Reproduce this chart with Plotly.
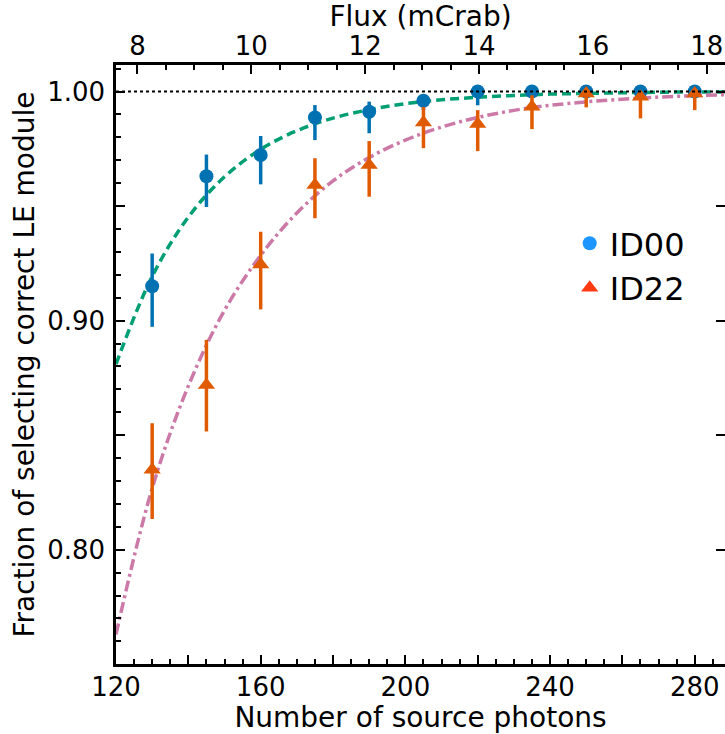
import plotly.graph_objects as go

# ---- data ----
photons = [130, 145, 160, 175, 190, 205, 220, 235, 250, 265, 280]

id00 = [0.9150, 0.9630, 0.9723, 0.9887, 0.9912, 0.9960, 1.0000, 1.0000, 1.0000, 1.0000, 1.0000]
id00_plus = [0.0143, 0.0095, 0.0083, 0.0054, 0.0044, 0.0020, 0.0, 0.0, 0.0, 0.0, 0.0]
id00_minus = [0.0177, 0.0134, 0.0128, 0.0099, 0.0094, 0.0040, 0.0060, 0.0, 0.0, 0.0, 0.0]

id22 = [0.8349, 0.8719, 0.9245, 0.9592, 0.9679, 0.9865, 0.9858, 0.9934, 0.9992, 0.9977, 0.9992]
id22_plus = [0.0203, 0.0197, 0.0143, 0.0117, 0.0105, 0.0068, 0.0061, 0.0050, 0.0008, 0.0023, 0.0008]
id22_minus = [0.0215, 0.0203, 0.0196, 0.0145, 0.0138, 0.0112, 0.0118, 0.0098, 0.0061, 0.0094, 0.0073]

# fitted curves
curve_x = [120, 130, 140, 150, 160, 170, 180, 190, 200, 210, 220, 230, 240, 250, 260, 270, 280, 290]
fit_id00 = [0.8810, 0.9193, 0.9452, 0.9628, 0.9748, 0.9829, 0.9884, 0.9921, 0.9947, 0.9964,
            0.9975, 0.9983, 0.9989, 0.9992, 0.9995, 0.9997, 0.9998, 0.9998]
fit_id22 = [0.7630, 0.8268, 0.8715, 0.9045, 0.9285, 0.9470, 0.9610, 0.9712, 0.9788, 0.9845,
            0.9887, 0.9918, 0.9940, 0.9955, 0.9967, 0.9976, 0.9982, 0.9987]

x_range = [120, 288.37]
y_range = [0.7501, 1.0116]
photons_per_mcrab = 15.74
flux_range = [x_range[0] / photons_per_mcrab, x_range[1] / photons_per_mcrab]

x_ticks = [120, 140, 160, 180, 200, 220, 240, 260, 280]
x_ticktext = ["120", "", "160", "", "200", "", "240", "", "280"]
flux_ticks = [8, 10, 12, 14, 16, 18]
y_ticks = [0.80, 0.85, 0.90, 0.95, 1.00]
y_ticktext = ["0.80", "", "0.90", "", "1.00"]

BLUE = "#0072B2"
ORANGE = "#E05A00"
GREEN = "#009E73"
PINK = "#CC79A7"
FONT = "DejaVu Sans"

fig = go.Figure()

fig.add_trace(go.Scatter(x=curve_x, y=fit_id00, mode="lines", line_shape="spline",
                         line=dict(color=GREEN, width=3.5, dash="9px,5px"),
                         showlegend=False, hoverinfo="skip"))
fig.add_trace(go.Scatter(x=curve_x, y=fit_id22, mode="lines", line_shape="spline",
                         line=dict(color=PINK, width=3.5, dash="11px,4px,3px,4px"),
                         showlegend=False, hoverinfo="skip"))

fig.add_trace(go.Scatter(x=photons, y=id00, mode="markers",
                         marker=dict(symbol="circle", size=14, color=BLUE),
                         error_y=dict(type="data", symmetric=False, array=id00_plus,
                                      arrayminus=id00_minus, color=BLUE, thickness=3.5, width=0),
                         showlegend=False))
fig.add_trace(go.Scatter(x=photons, y=id22, mode="markers",
                         marker=dict(symbol="triangle-up", size=15, color=ORANGE),
                         error_y=dict(type="data", symmetric=False, array=id22_plus,
                                      arrayminus=id22_minus, color=ORANGE, thickness=3.5, width=0),
                         showlegend=False))

# legend entries
fig.add_trace(go.Scatter(x=[None], y=[None], mode="markers", name="ID00",
                         marker=dict(symbol="circle", size=14, color="#1E96FF")))
fig.add_trace(go.Scatter(x=[None], y=[None], mode="markers", name="ID22",
                         marker=dict(symbol="triangle-up", size=15, color="#FF3A10")))

# carrier for the top / right axes
fig.add_trace(go.Scatter(x=[None], y=[None], xaxis="x2", yaxis="y2",
                         showlegend=False, hoverinfo="skip"))

fig.add_hline(y=1.0, line=dict(color="black", width=2, dash="dot"), layer="above")

axis_common = dict(showgrid=False, zeroline=False, linecolor="black", linewidth=2.5,
                   ticks="inside", tickcolor="black", tickwidth=2,
                   tickfont=dict(family=FONT, size=26, color="black"))

fig.update_layout(
    width=725, height=734,
    margin=dict(l=115.5, r=0, t=65, b=70),
    paper_bgcolor="white", plot_bgcolor="white",
    font=dict(family=FONT, color="black"),
    xaxis=dict(range=x_range, tickvals=x_ticks, ticktext=x_ticktext, ticklen=9,
               showline=True, mirror=False, ticklabelstandoff=-2,
               minor=dict(dtick=5, ticklen=5, tickwidth=2, tickcolor="black", ticks="inside"),
               title=dict(text="Number of source photons", font=dict(family=FONT, size=28),
                          standoff=5),
               **axis_common),
    xaxis2=dict(range=flux_range, overlaying="x", side="top", anchor="y",
                tickvals=flux_ticks, ticklen=9, showline=True, ticklabelstandoff=-3,
                minor=dict(dtick=0.5, ticklen=5, tickwidth=2, tickcolor="black", ticks="inside"),
                title=dict(text="Flux (mCrab)", font=dict(family=FONT, size=28), standoff=2),
                **axis_common),
    yaxis=dict(range=y_range, tickvals=y_ticks, ticktext=y_ticktext, ticklen=9,
               showline=True, mirror=False, ticklabelstandoff=3,
               minor=dict(dtick=0.01, ticklen=5, tickwidth=2, tickcolor="black", ticks="inside"),
               title=dict(text="Fraction of selecting correct LE module",
                          font=dict(family=FONT, size=28), standoff=5),
               **axis_common),
    yaxis2=dict(range=y_range, overlaying="y", side="right", anchor="x",
                tickvals=y_ticks, ticktext=["", "", "", "", ""], ticklen=9,
                showgrid=False, zeroline=False, showline=False,
                ticks="inside", tickcolor="black", tickwidth=2),
    legend=dict(x=0.745, y=0.6646, xanchor="left", yanchor="middle",
                font=dict(family=FONT, size=32, color="black"),
                bgcolor="rgba(0,0,0,0)", borderwidth=0, tracegroupgap=0),
    showlegend=True,
)

fig.write_html(
    "out.html",
    config={"displayModeBar": False},
    post_script="document.body.style.margin='0';document.body.style.overflow='hidden';"
                "document.documentElement.style.overflow='hidden';",
)
